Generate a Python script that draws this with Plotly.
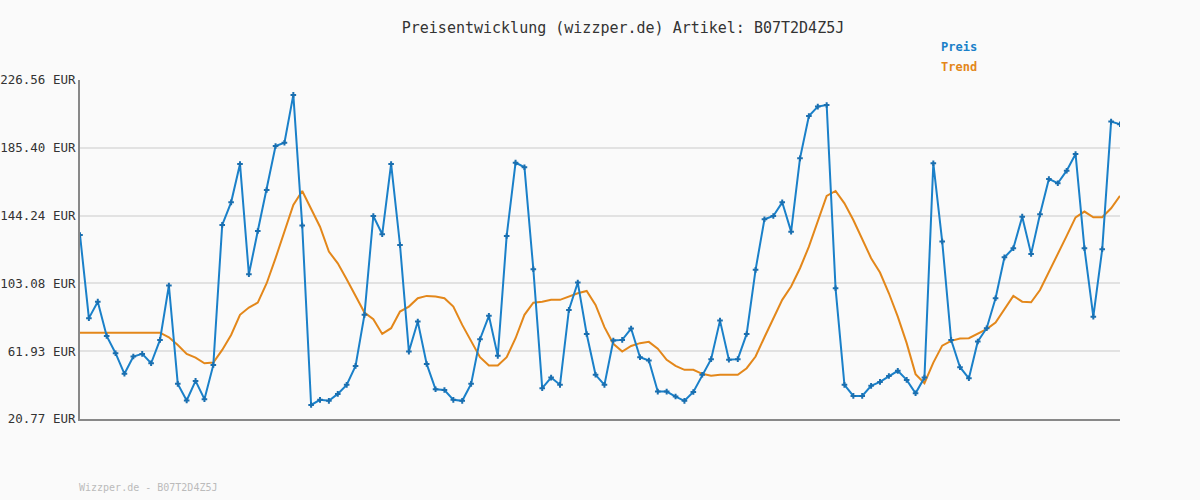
import plotly.graph_objects as go

preis = [132.5, 82.0, 92.0, 71.2, 60.7, 48.2, 58.7, 60.3, 54.6, 68.8,
         101.8, 42.1, 32.0, 43.9, 32.8, 53.6, 138.6, 152.3, 175.6, 108.6,
         134.9, 159.8, 186.5, 188.5, 217.5, 138.2, 29.3, 32.4, 31.8, 36.0,
         41.5, 53.0, 84.0, 144.0, 132.9, 175.6, 126.4, 61.7, 79.9, 54.2,
         38.8, 38.4, 32.4, 31.8, 42.1, 69.2, 83.4, 59.1, 131.9, 176.4,
         173.6, 111.7, 39.5, 45.9, 41.5, 87.0, 103.6, 72.4, 47.6, 41.5,
         68.4, 68.8, 75.7, 58.3, 56.3, 37.4, 37.4, 34.4, 31.8, 37.2,
         47.6, 57.1, 80.5, 56.7, 57.1, 72.4, 111.3, 142.0, 144.0, 152.3,
         134.5, 179.0, 204.7, 210.4, 211.4, 100.1, 41.5, 34.8, 34.8, 40.9,
         43.3, 46.9, 50.0, 44.5, 36.4, 45.9, 176.0, 128.5, 68.8, 52.2,
         45.5, 67.8, 75.9, 94.1, 118.9, 124.4, 143.6, 121.0, 145.0, 166.5,
         163.9, 171.5, 181.6, 124.4, 82.9, 123.8, 201.3, 199.7]

trend = [73.2] * 10 + [
         70.4, 65.7, 60.3, 58.0, 54.6, 55.0, 62.7, 71.8, 84.0, 88.4,
         91.4, 103.2, 118.4, 134.5, 150.7, 159.2, 148.7, 137.5, 122.4, 115.3,
         105.6, 95.5, 85.4, 81.3, 72.4, 75.9, 86.0, 89.0, 94.1, 95.5,
         95.1, 94.1, 89.0, 77.9, 68.2, 58.3, 53.2, 53.2, 58.3, 69.8,
         84.0, 91.4, 92.0, 93.1, 93.1, 95.1, 97.1, 98.5, 90.0, 76.5,
         66.4, 61.7, 65.1, 66.8, 67.6, 63.5, 56.7, 53.0, 50.6, 50.6,
         48.2, 47.1, 47.6, 47.6, 47.6, 51.6, 58.7, 70.4, 82.0, 93.1,
         101.2, 112.3, 125.4, 140.6, 156.2, 159.2, 151.7, 141.6, 130.5, 118.4,
         109.7, 97.1, 82.9, 66.8, 48.0, 42.5, 55.0, 65.3, 68.2, 69.6,
         69.8, 72.4, 75.3, 79.3, 87.0, 95.5, 92.0, 91.6, 99.1, 109.7,
         121.0, 131.9, 143.2, 146.7, 143.2, 143.2, 148.7, 156.2]

y_ticks = [20.77, 61.93, 103.08, 144.24, 185.40, 226.56]
artikel = "B07T2D4Z5J"

x = list(range(len(preis)))
font = "DejaVu Sans Mono, monospace"

fig = go.Figure()
fig.add_trace(go.Scatter(x=x, y=trend, mode="lines", line=dict(color="#e3871a", width=2), name="Trend"))
fig.add_trace(go.Scatter(x=x, y=preis, mode="lines+markers", line=dict(color="#1a80c9", width=2),
                         marker=dict(symbol="cross-thin", size=4, color="#1a80c9",
                                     line=dict(width=2, color="#1a6fb0")), name="Preis"))

pw, ph = 1200 - 160, 500 - 161
fig.update_layout(
    width=1200, height=500, showlegend=False,
    margin=dict(l=80, r=80, t=80, b=81),
    paper_bgcolor="#fafafa", plot_bgcolor="#fafafa",
    font=dict(family=font, size=12, color="#333"),
    title=dict(text="Preisentwicklung (wizzper.de) Artikel: " + artikel, x=(403 + 843) / 2 / 1200,
               y=1 - 28 / 500, xanchor="center", yanchor="middle", font=dict(size=15, color="#333")),
    xaxis=dict(range=[0, len(preis) - 1], showticklabels=False, showgrid=False, zeroline=False,
               showline=True, linecolor="#888", linewidth=2, automargin=False),
    yaxis=dict(range=[y_ticks[0], y_ticks[-1]], tickvals=y_ticks,
               ticktext=["%.2f EUR" % v for v in y_ticks], showgrid=True, gridcolor="#e2e2e2",
               gridwidth=2, zeroline=False, showline=True, linecolor="#888", linewidth=2,
               ticks="", ticklabelstandoff=0, tickfont=dict(size=12.5, color="#333"), automargin=False),
    annotations=[
        dict(text="<b>Preis</b>", x=(939 - 80) / pw, y=1 + (80 - 47) / ph, xref="paper", yref="paper",
             xanchor="left", yanchor="middle", showarrow=False, font=dict(size=12, color="#1a80c9")),
        dict(text="<b>Trend</b>", x=(939 - 80) / pw, y=1 + (80 - 67) / ph, xref="paper", yref="paper",
             xanchor="left", yanchor="middle", showarrow=False, font=dict(size=12, color="#e3871a")),
        dict(text="Wizzper.de - " + artikel, x=-0.003, y=-(487 - 419) / ph, xref="paper", yref="paper",
             xanchor="left", yanchor="middle", showarrow=False, font=dict(size=10, color="#bbb")),
    ],
)

fig.write_html("out.html", config={"displayModeBar": False},
               post_script="document.body.style.margin='0';")
